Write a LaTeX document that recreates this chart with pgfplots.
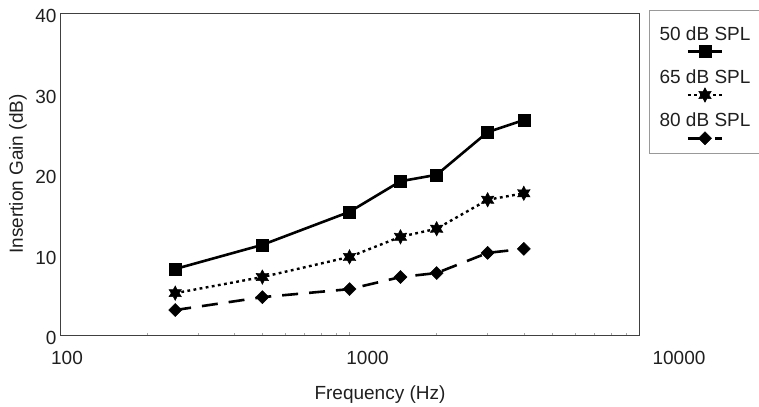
\documentclass[border=0pt]{standalone}
\usepackage{fontspec}
\setmainfont{Liberation Sans}
\usepackage{pgfplots}
\pgfplotsset{compat=1.18}

% filled six-pointed star used for the 65 dB series
\pgfdeclareplotmark{hexstar}{%
  \pgfpathmoveto{\pgfqpointpolar{90}{\pgfplotmarksize}}%
  \pgfpathlineto{\pgfqpointpolar{120}{0.55\pgfplotmarksize}}%
  \pgfpathlineto{\pgfqpointpolar{150}{\pgfplotmarksize}}%
  \pgfpathlineto{\pgfqpointpolar{180}{0.55\pgfplotmarksize}}%
  \pgfpathlineto{\pgfqpointpolar{210}{\pgfplotmarksize}}%
  \pgfpathlineto{\pgfqpointpolar{240}{0.55\pgfplotmarksize}}%
  \pgfpathlineto{\pgfqpointpolar{270}{\pgfplotmarksize}}%
  \pgfpathlineto{\pgfqpointpolar{300}{0.55\pgfplotmarksize}}%
  \pgfpathlineto{\pgfqpointpolar{330}{\pgfplotmarksize}}%
  \pgfpathlineto{\pgfqpointpolar{0}{0.55\pgfplotmarksize}}%
  \pgfpathlineto{\pgfqpointpolar{30}{\pgfplotmarksize}}%
  \pgfpathlineto{\pgfqpointpolar{60}{0.55\pgfplotmarksize}}%
  \pgfpathclose
  \pgfusepathqfillstroke
}

\begin{document}
\begin{tikzpicture}[font=\fontsize{19bp}{23bp}\selectfont, text=black!88]
\begin{axis}[
  scale only axis, width=579bp, height=322bp,
  xmode=log, xmin=100, xmax=10000,
  ymin=0, ymax=40, ytick={0,10,20,30,40},
  xtick={100,1000,10000}, xticklabels={},
  tick pos=left, tick align=inside,
  major tick length=3bp, minor tick length=2bp,
  x tick style={black!35, line width=0.5bp},
  ytick style={draw=none},
  axis line style={black!75, line width=0.8bp},
  /pgf/number format/assume math mode=true,
  yticklabel style={yshift=-3bp},
  every axis y label/.style={at={(rel axis cs:0,0.5)}, xshift=-42bp, rotate=90, anchor=center},
  every axis x label/.style={at={(rel axis cs:0.5,0)}, xshift=30.5bp, yshift=-64bp, anchor=base},
  ylabel={Insertion Gain (dB)},
  xlabel={Frequency (Hz)},
  clip=false,
  legend style={draw=none, fill=none, inner sep=0pt, at={(rel axis cs:1.114,0.9596)}, anchor=north,
    row sep=26.3bp, column sep=0pt, cells={anchor=center},
    nodes={inner sep=0pt, text height=14bp, text depth=3bp}},
  legend image code/.code={%
    \begin{scope}[overlay, shift={(45.4bp,-17bp)}]
      \draw[#1, mark repeat=2, mark phase=2] plot coordinates {(-17bp,0bp) (0bp,0bp) (17bp,0bp)};
    \end{scope}},
]
\addplot[black, line width=2.6bp, mark=square*, mark size=6bp,
  mark options={solid, line width=0.5bp}]
  coordinates {(250,8.2) (500,11.2) (1000,15.3) (1500,19.1) (2000,19.9) (3000,25.2) (4000,26.7)};
\addlegendentry{50 dB SPL}
\addplot[black, line width=2.4bp, dash pattern=on 2.8bp off 3.4bp, mark=hexstar, mark size=7.2bp,
  mark options={solid, line width=0.5bp}]
  coordinates {(250,5.2) (500,7.2) (1000,9.7) (1500,12.2) (2000,13.2) (3000,16.8) (4000,17.6)};
\addlegendentry{65 dB SPL}
\addplot[black, line width=2.6bp, dash pattern=on 16bp off 11bp, mark=square*, mark size=4.6bp,
  mark options={solid, rotate=45, line width=0.5bp}]
  coordinates {(250,3.1) (500,4.7) (1000,5.7) (1500,7.2) (2000,7.7) (3000,10.2) (4000,10.7)};
\addlegendentry{80 dB SPL}

% frequency tick labels
\node[anchor=base, xshift=7bp, yshift=-29bp] at (axis cs:100,0) {100};
\node[anchor=base, xshift=18bp, yshift=-29bp] at (axis cs:1000,0) {1000};
\node[anchor=base, xshift=40bp, yshift=-29bp] at (axis cs:10000,0) {10000};
\end{axis}
% legend frame (its right side runs off the page)
\draw[black!40, line width=0.6bp] ([shift={(589bp,182bp)}]current axis.south west) rectangle ([shift={(702bp,325bp)}]current axis.south west);
\pgfresetboundingbox
\useasboundingbox ([shift={(-60bp,-72bp)}]current axis.south west) rectangle ++(759bp,407bp);
\end{tikzpicture}
\end{document}
